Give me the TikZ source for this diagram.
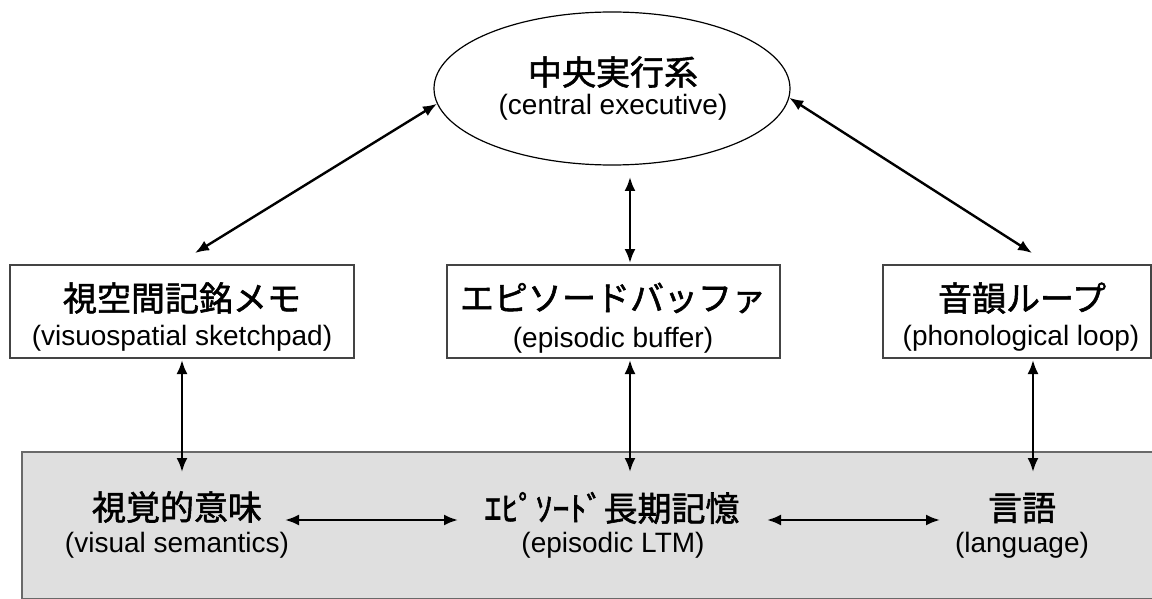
\documentclass[tikz,border=0pt]{standalone}
\usepackage{fontspec}
\setmainfont{Liberation Sans}
\newfontfamily\jp{Noto Sans CJK JP}[FakeBold=1.6]
\usetikzlibrary{shapes.geometric,arrows.meta}
\definecolor{boxline}{HTML}{444444}
\definecolor{grayfill}{HTML}{DFDFDF}
\begin{document}
\begin{tikzpicture}[x=1pt,y=-1pt,
  jptext/.style={inner sep=0pt,font=\jp\fontsize{34}{40}\selectfont},
  entext/.style={inner sep=0pt,font=\fontsize{28}{32}\selectfont},
  wmbox/.style={draw=boxline,line width=1.6pt,fill=white,inner sep=0pt},
  link/.style={line width=2.4pt,{Latex[length=14pt,width=11pt]}-{Latex[length=14pt,width=11pt]}}]
\useasboundingbox (0,0) rectangle (1152,599);
% long-term memory area
\node[draw=boxline!80,line width=1.6pt,fill=grayfill,minimum width=1150pt,minimum height=147pt,inner sep=0pt,anchor=north west] (ltmarea) at (21,451) {};
% central executive
\node[ellipse,draw=black,line width=1.2pt,minimum width=356pt,minimum height=153pt,inner sep=0pt] (ce) at (612,88.5) {};
\node[jptext] (ceJ) at (613,72) {中央実行系};
\node[entext] (ceE) at (613,107) {(central executive)};
% working memory boxes
\node[wmbox,minimum width=344pt,minimum height=93pt] (vs) at (182,311.5) {};
\node[jptext] (vsJ) at (182,298) {視空間記銘メモ};
\node[entext] (vsE) at (182,338) {(visuospatial sketchpad)};
\node[wmbox,minimum width=333pt,minimum height=93pt] (eb) at (613.5,311.5) {};
\node[jptext] (ebJ) at (613,298) {エピソードバッファ};
\node[entext] (ebE) at (613,340) {(episodic buffer)};
\node[wmbox,minimum width=268pt,minimum height=93pt] (pl) at (1017,311.5) {};
\node[jptext] (plJ) at (1022,298) {音韻ループ};
\node[entext] (plE) at (1021,338) {(phonological loop)};
% long-term memory texts
\node[jptext] (visJ) at (177,507) {視覚的意味};
\node[entext] (visE) at (177,545) {(visual semantics)};
\node[jptext] (ltmJ) at (612,508) {ｴﾋﾟｿｰﾄﾞ長期記憶};
\node[entext] (ltmE) at (613,545) {(episodic LTM)};
\node[jptext] (langJ) at (1022,508) {言語};
\node[entext] (langE) at (1022,545) {(language)};
% arrow end points
\coordinate (vsTop) at (195,253);
\coordinate (plTop) at (1032,253);
\coordinate (ceBot) at (630,177);
\coordinate (ebTop) at (630,263);
\coordinate (vsBot) at (182,360);
\coordinate (vsDown) at (182,472);
\coordinate (ebBot) at (630,360);
\coordinate (ebDown) at (630,472);
\coordinate (plBot) at (1033,360);
\coordinate (plDown) at (1033,472);
\coordinate (visR) at (285,520);
\coordinate (ltmL) at (458,520);
\coordinate (ltmR) at (767,520);
\coordinate (langL) at (940,520);
% connectors
\draw[link] (ce.185) -- (vsTop);
\draw[link] (ce.-3) -- (plTop);
\draw[link] (ceBot) -- (ebTop);
\draw[link] (vsBot) -- (vsDown);
\draw[link] (ebBot) -- (ebDown);
\draw[link] (plBot) -- (plDown);
\draw[link] (visR) -- (ltmL);
\draw[link] (ltmR) -- (langL);
\end{tikzpicture}
\end{document}
